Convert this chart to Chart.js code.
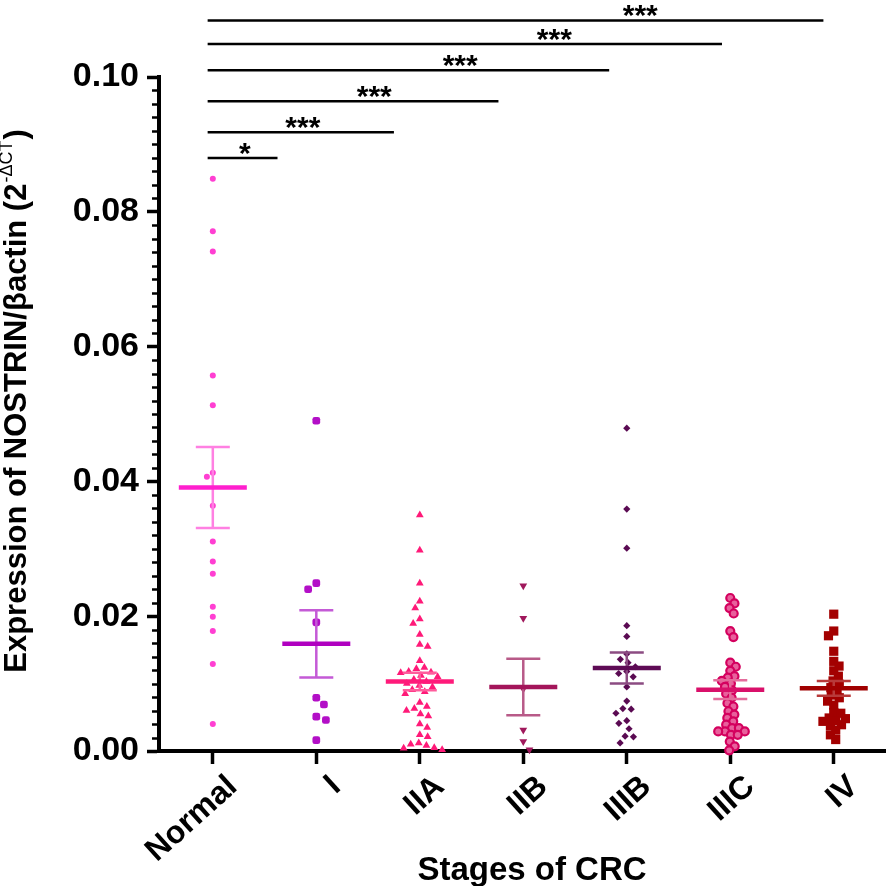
<!DOCTYPE html>
<html><head><meta charset="utf-8">
<script src="https://cdn.jsdelivr.net/npm/chart.js@4.4.0/dist/chart.umd.min.js"></script>
<style>html,body{margin:0;padding:0;background:#fff;}#wrap{width:892px;height:886px;position:relative}</style>
</head><body><div id="wrap"><canvas id="c"></canvas></div>
<script>
// ---------- data ----------
const categories = ['Normal', 'I', 'IIA', 'IIB', 'IIIB', 'IIIC', 'IV'];
const normalValues = [0.0849, 0.0771, 0.0741, 0.0557, 0.0513, 0.0413, 0.0407, 0.0364, 0.0311, 0.0281, 0.0263, 0.0214, 0.0199, 0.0178, 0.0129, 0.0040];
const stageIValues = [0.0490, 0.0249, 0.0240, 0.0191, 0.0079, 0.0069, 0.0051, 0.0046, 0.0016];
const stageIIAValues = [0.0350, 0.0298, 0.0249, 0.0222, 0.0212, 0.0196, 0.0189, 0.0173, 0.0158, 0.0155, 0.0134,
  0.0124, 0.0122, 0.0118, 0.0117, 0.0116, 0.0112, 0.0110, 0.0106, 0.0103, 0.0100, 0.0097, 0.0095, 0.0091, 0.0088, 0.0085,
  0.0072, 0.0066, 0.0063, 0.0060, 0.0055, 0.0052, 0.0040, 0.0035, 0.0024, 0.0021, 0.0012, 0.0010, 0.0008, 0.0005, 0.0004, 0.0002];
const stageIIBValues = [0.0245, 0.0197, 0.0092, 0.0031, 0.0014, 0.0002];
const stageIIIBValues = [0.0479, 0.0359, 0.0301, 0.0186, 0.0170, 0.0144, 0.0136, 0.0131, 0.0125, 0.0118, 0.0115, 0.0110,
  0.0095, 0.0074, 0.0063, 0.0062, 0.0056, 0.0045, 0.0041, 0.0033, 0.0022, 0.0021, 0.0012];
const stageIIICValues = [0.0227, 0.0219, 0.0212, 0.0204, 0.0178, 0.0169, 0.0131, 0.0125, 0.0119, 0.0111, 0.0109, 0.0104, 0.0100,
  0.0095, 0.0090, 0.0085, 0.0079, 0.0071, 0.0066, 0.0059, 0.0054, 0.0049, 0.0044, 0.0039, 0.0034, 0.0034,
  0.0029, 0.0029, 0.0029, 0.0024, 0.0024, 0.0014, 0.0007, 0.0001];
const stageIVValues = [0.0203, 0.0178, 0.0171, 0.0148, 0.0133, 0.0126, 0.0119, 0.0111, 0.0104, 0.0099, 0.0094, 0.0089, 0.0083,
  0.0079, 0.0074, 0.0068, 0.0057, 0.0056, 0.0049, 0.0048, 0.0045, 0.0044, 0.0039, 0.0038, 0.0031, 0.0024, 0.0017];
const groupMeans = [0.0391, 0.0159, 0.0103, 0.0095, 0.0123, 0.0091, 0.0093];
const groupSEM = [0.0060, 0.0050, 0.0013, 0.0042, 0.0023, 0.0014, 0.0011];
const yTickValues = [0.00, 0.02, 0.04, 0.06, 0.08, 0.10];
const significanceLabels = ['*', '***', '***', '***', '***', '***'];
const xAxisTitle = 'Stages of CRC';
const yAxisTitle = ['Expression of NOSTRIN/\u03B2actin (2', '-\u0394CT', ')'];

// ---------- layout / style ----------
const groups = [normalValues, stageIValues, stageIIAValues, stageIIBValues, stageIIIBValues, stageIIICValues, stageIVValues];
const FONT = "'Liberation Sans', Arial, sans-serif";
const styles = [
  {ps: 'circle', r: 3, bg: '#ff3fd2', bd: '#ff3fd2', bw: 0, rot: 0, mean: '#ff1fce', bar: '#ff80e2', spread: 1},
  {ps: 'rectRounded', r: 4.5, bg: '#b30fc7', bd: '#b30fc7', bw: 0, rot: 0, mean: '#b000c0', bar: '#c45ad6', spread: 1},
  {ps: 'triangle', r: 4.5, bg: '#ff1a78', bd: '#ff1a78', bw: 0, rot: 0, mean: '#ff1a7a', bar: '#ff5c9c', spread: 0.8},
  {ps: 'triangle', r: 4.5, bg: '#a0185c', bd: '#a0185c', bw: 0, rot: 180, mean: '#a3155a', bar: '#b85a88', spread: 1},
  {ps: 'rectRot', r: 3.6, bg: '#5a0a52', bd: '#5a0a52', bw: 0, rot: 0, mean: '#5e0b55', bar: '#8c4c82', spread: 1},
  {ps: 'circle', r: 4, bg: '#e8609c', bd: '#d4005e', bw: 2.2, rot: 0, mean: '#d9106a', bar: '#e46c9c', spread: 0.6},
  {ps: 'rect', r: 6.5, bg: '#a30000', bd: '#a30000', bw: 0, rot: 0, mean: '#a00000', bar: '#b83a3a', spread: 0.5}
];
// bracket layout (in data units): level, line start/end (category units), star centre
const bracketLayout = [
  {y: 0.0880, x0: -0.05, x1: 0.625, sx: 0.31},
  {y: 0.0918, x0: -0.05, x1: 1.75, sx: 0.87},
  {y: 0.0964, x0: -0.05, x1: 2.76, sx: 1.56},
  {y: 0.1010, x0: -0.05, x1: 3.83, sx: 2.39},
  {y: 0.1049, x0: -0.05, x1: 4.92, sx: 3.30},
  {y: 0.1084, x0: -0.05, x1: 5.90, sx: 4.13}
];

const PX_PER_Y = 6742, PX_PER_CAT = 104;
function swarm(values, r, spread) {
  const d = (2 * r + 1.2) * spread;
  const placed = [];
  const offs = new Array(values.length).fill(0);
  const order = values.map((v, i) => i).sort((a, b) => values[b] - values[a]);
  let flip = 1;
  for (const i of order) {
    const y = values[i] * PX_PER_Y;
    const near = placed.filter(p => Math.abs(p.y - y) < d);
    const cands = [0];
    near.forEach(p => { const dx = Math.sqrt(d * d - (p.y - y) ** 2); cands.push(p.x + dx, p.x - dx); });
    const ok = cands.filter(c => near.every(p => (p.x - c) ** 2 + (p.y - y) ** 2 >= d * d - 0.01));
    ok.sort((a, b) => Math.abs(a) - Math.abs(b) || (flip * (a - b)));
    const x = ok[0];
    flip = -flip;
    placed.push({x, y});
    offs[i] = x / PX_PER_CAT;
  }
  return offs;
}

const datasets = groups.map((vals, gi) => {
  const s = styles[gi];
  const offs = swarm(vals, s.r + s.bw / 2, s.spread);
  return {
    label: categories[gi],
    data: vals.map((v, j) => ({x: gi + offs[j], y: v})),
    pointStyle: s.ps, pointRadius: s.r, pointHoverRadius: s.r,
    backgroundColor: s.bg, borderColor: s.bd, borderWidth: s.bw, rotation: s.rot,
    clip: false
  };
});

const errorBars = {
  id: 'errorBars',
  afterDatasetsDraw(chart) {
    const {ctx, scales: {x, y}} = chart;
    ctx.save();
    groupMeans.forEach((m, gi) => {
      const s = styles[gi];
      const cx = x.getPixelForValue(gi);
      const ym = y.getPixelForValue(m);
      const yt = y.getPixelForValue(m + groupSEM[gi]);
      const yb = y.getPixelForValue(m - groupSEM[gi]);
      ctx.strokeStyle = s.bar; ctx.lineWidth = 2.5; ctx.lineCap = 'butt';
      ctx.beginPath();
      ctx.moveTo(cx, yt); ctx.lineTo(cx, yb);
      ctx.moveTo(cx - 17, yt); ctx.lineTo(cx + 17, yt);
      ctx.moveTo(cx - 17, yb); ctx.lineTo(cx + 17, yb);
      ctx.stroke();
      ctx.strokeStyle = s.mean; ctx.lineWidth = 4.5;
      ctx.beginPath(); ctx.moveTo(cx - 34, ym); ctx.lineTo(cx + 34, ym); ctx.stroke();
    });
    ctx.restore();
  }
};

const extras = {
  id: 'extras',
  afterDraw(chart) {
    const {ctx, scales: {x, y}, chartArea} = chart;
    ctx.save();
    // minor ticks on y axis
    ctx.strokeStyle = '#000'; ctx.lineWidth = 2.5;
    for (let k = 1; k < 50; k++) {
      if (k % 10 === 0) continue;
      const py = Math.round(y.getPixelForValue(k * 0.002)) + 0.5;
      ctx.beginPath(); ctx.moveTo(chartArea.left - 7, py); ctx.lineTo(chartArea.left, py); ctx.stroke();
    }
    // significance brackets
    ctx.lineWidth = 2.5; ctx.fillStyle = '#000';
    ctx.font = 'bold 30px ' + FONT; ctx.textAlign = 'center'; ctx.textBaseline = 'alphabetic';
    bracketLayout.forEach((b, i) => {
      const py = y.getPixelForValue(b.y);
      ctx.beginPath(); ctx.moveTo(x.getPixelForValue(b.x0), py); ctx.lineTo(x.getPixelForValue(b.x1), py); ctx.stroke();
      ctx.fillText(significanceLabels[i], x.getPixelForValue(b.sx), py + 5);
    });
    // x axis title
    ctx.font = 'bold 33px ' + FONT; ctx.textAlign = 'center'; ctx.textBaseline = 'middle';
    ctx.fillText(xAxisTitle, 532, 871);
    // y axis title with superscript
    const mainFont = 'bold 31px ' + FONT, supFont = '18px ' + FONT;
    ctx.font = mainFont; const w1 = ctx.measureText(yAxisTitle[0]).width; const w3 = ctx.measureText(yAxisTitle[2]).width;
    ctx.font = supFont; const w2 = ctx.measureText(yAxisTitle[1]).width;
    const total = w1 + w2 + w3 + 2;
    ctx.translate(17, 401); ctx.rotate(-Math.PI / 2);
    ctx.textAlign = 'left'; ctx.textBaseline = 'middle';
    let cx = -total / 2;
    ctx.font = mainFont; ctx.fillText(yAxisTitle[0], cx, 0); cx += w1 + 1;
    ctx.font = supFont; ctx.fillText(yAxisTitle[1], cx, -10); cx += w2 + 1;
    ctx.font = mainFont; ctx.fillText(yAxisTitle[2], cx, 0);
    ctx.restore();
  }
};

new Chart(document.getElementById('c'), {
  type: 'scatter',
  data: {datasets},
  options: {
    responsive: true, maintainAspectRatio: false, animation: false,
    layout: {padding: {top: 77, right: 3, left: 0, bottom: 0}},
    plugins: {legend: {display: false}, tooltip: {enabled: false}},
    scales: {
      x: {
        type: 'linear', min: -0.52, max: 6.5,
        afterBuildTicks: s => { s.ticks = categories.map((c, i) => ({value: i})); },
        afterFit: s => { s.height = 135; },
        ticks: {
          autoSkip: false, minRotation: 42, maxRotation: 42, color: '#000', padding: 4, labelOffset: 20,
          font: {family: FONT, size: 32, weight: 'bold'},
          callback: (v, i) => categories[i]
        },
        grid: {drawOnChartArea: false, drawTicks: true, tickLength: 13, tickWidth: 3.5, color: '#000'},
        border: {display: true, width: 4, color: '#000'},
        title: {display: false, text: xAxisTitle}
      },
      y: {
        type: 'linear', min: 0, max: 0.1,
        afterBuildTicks: s => { s.ticks = yTickValues.map(v => ({value: v})); },
        afterFit: s => { s.width = 159; },
        ticks: {color: '#000', padding: 8, font: {family: FONT, size: 34, weight: 'bold'}, callback: v => v.toFixed(2)},
        grid: {drawOnChartArea: false, drawTicks: true, tickLength: 12, tickWidth: 3.5, color: '#000'},
        border: {display: true, width: 4, color: '#000'}
      }
    }
  },
  plugins: [errorBars, extras]
});
</script></body></html>
